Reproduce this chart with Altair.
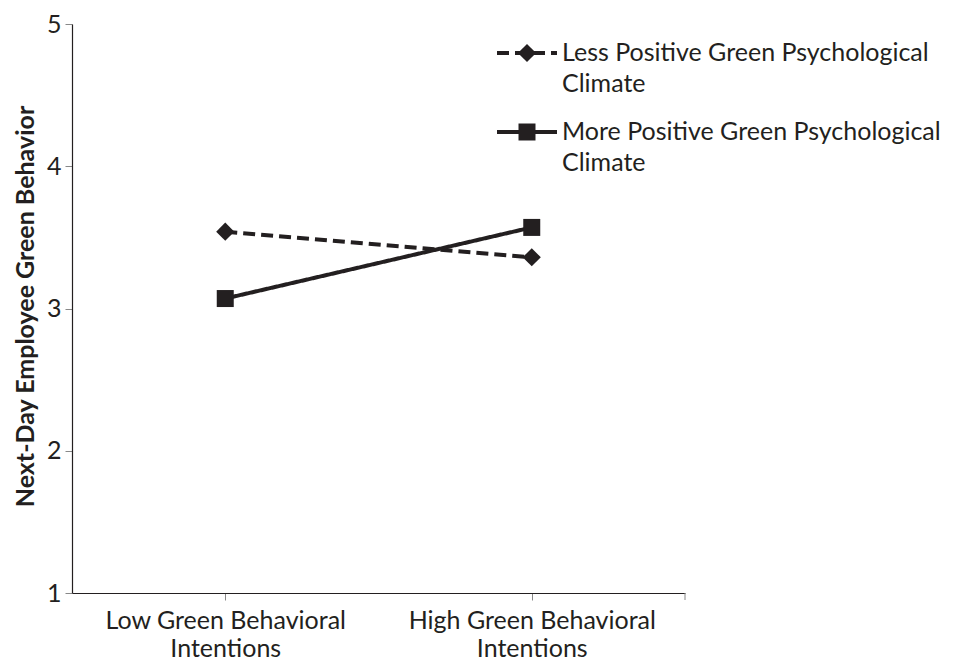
import altair as alt
import pandas as pd

intentions = ["Low Green Behavioral|Intentions", "High Green Behavioral|Intentions"]
climates = ["Less Positive Green Psychological Climate", "More Positive Green Psychological Climate"]
less_values = [3.54, 3.36]
more_values = [3.07, 3.57]
y_ticks = [1, 2, 3, 4, 5]

rows = []
for i, it in enumerate(intentions):
    rows.append({"intent": it, "climate": climates[0], "value": less_values[i]})
    rows.append({"intent": it, "climate": climates[1], "value": more_values[i]})
df = pd.DataFrame(rows)

INK = "#231f20"
FONT = "Lato"
FS = 25

x_enc = alt.X("intent:N", sort=intentions, scale=alt.Scale(paddingInner=0, paddingOuter=0),
              axis=alt.Axis(title=None, labelExpr="split(datum.label, '|')", labelAngle=0,
                            labelFontSize=FS, labelColor=INK, labelFont=FONT, labelLineHeight=28,
                            labelPadding=8, labelLimit=500, tickSize=7, tickColor="#888",
                            domainColor=INK, domainWidth=1.2, grid=False))
y_enc = alt.Y("value:Q", scale=alt.Scale(domain=[1, 5], nice=False, zero=False),
              axis=alt.Axis(title="Next-Day Employee Green Behavior", values=y_ticks, format="d",
                            labelFontSize=FS, labelColor=INK, labelFont=FONT, labelPadding=4,
                            tickSize=7, tickColor="#888", domainColor=INK, domainWidth=1.2,
                            grid=False, titleFont=FONT, titleFontSize=25, titleFontWeight="bold",
                            titleColor=INK, titleX=-47, titleY=282, titleAngle=270,
                            titleAlign="center", titleBaseline="middle", labelOverlap=False,
                            labelBound=False))

base = alt.Chart(df)
lines = base.mark_line(color=INK, strokeWidth=4).encode(
    x=x_enc, y=y_enc, detail="climate:N",
    strokeDash=alt.StrokeDash("climate:N", scale=alt.Scale(domain=climates, range=[[12, 6], [1, 0]]), legend=None),
)
points = base.mark_point(filled=True, color=INK, opacity=1).encode(
    x=alt.X("intent:N", sort=intentions), y="value:Q",
    shape=alt.Shape("climate:N", scale=alt.Scale(domain=climates, range=["diamond", "square"]), legend=None),
    size=alt.Size("climate:N", scale=alt.Scale(domain=climates, range=[330, 289]), legend=None),
)

one = alt.Data(values=[{"a": 1}])
legend_layers = []
leg_y = [29, 108]
leg_dash = [[12, 6], [1, 0]]
leg_shape = ["diamond", "square"]
leg_size = [330, 289]
leg_text = ["Less Positive Green Psychological\nClimate", "More Positive Green Psychological\nClimate"]
for k in range(2):
    legend_layers.append(alt.Chart(one).mark_rule(color=INK, strokeWidth=4, strokeDash=leg_dash[k]).encode(
        x=alt.value(425), x2=alt.value(485), y=alt.value(leg_y[k])))
    legend_layers.append(alt.Chart(one).mark_point(filled=True, color=INK, opacity=1, shape=leg_shape[k], size=leg_size[k]).encode(
        x=alt.value(455), y=alt.value(leg_y[k])))
    legend_layers.append(alt.Chart(one).mark_text(align="left", baseline="middle", font=FONT, fontSize=FS,
                                                  color=INK, lineBreak="\n", lineHeight=31).encode(
        x=alt.value(490), y=alt.value(leg_y[k]), text=alt.value(leg_text[k])))

end_tick = alt.Chart(one).mark_rule(color="#888", strokeWidth=1).encode(
    x=alt.value(613), y=alt.value(569), y2=alt.value(576))

chart = alt.layer(lines, points, end_tick, *legend_layers).properties(
    width=613, height=569, autosize="none",
    padding={"left": 64, "top": 16, "right": 280, "bottom": 71},
).configure_view(stroke=None)

chart.save("out.html", embed_options={"renderer": "svg", "actions": False})
